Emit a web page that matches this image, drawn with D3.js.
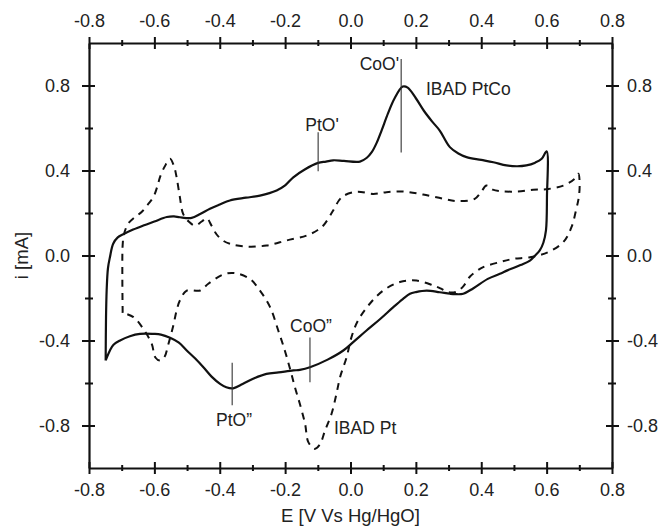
<!DOCTYPE html>
<html>
<head>
<meta charset="utf-8">
<script src="https://cdn.jsdelivr.net/npm/d3@7/dist/d3.min.js"></script>
<style>
  html, body { margin: 0; padding: 0; background: #fff; }
  svg { display: block; }
  text { font-family: "Liberation Sans", Arial, sans-serif; fill: #222; }
</style>
</head>
<body>
<svg id="chart" width="662" height="526"></svg>
<script>
// Cyclic voltammograms: potential E (V vs Hg/HgO) and current i (mA)
const ptcoE = [-0.749,-0.748,-0.746,-0.742,-0.736,-0.726,-0.712,-0.695,-0.665,-0.634,-0.600,-0.562,-0.540,-0.522,-0.486,-0.460,-0.430,-0.400,-0.369,-0.320,-0.277,-0.226,-0.200,-0.175,-0.140,-0.099,-0.075,-0.053,-0.020,0.029,0.050,0.065,0.080,0.095,0.115,0.135,0.160,0.175,0.200,0.225,0.250,0.273,0.304,0.330,0.355,0.400,0.437,0.477,0.510,0.538,0.565,0.585,0.600,
  0.601,0.598,0.590,0.579,0.565,0.549,0.520,0.480,0.457,0.420,0.375,0.345,0.320,0.304,0.273,0.233,0.200,0.182,0.160,0.131,0.090,0.049,0.010,-0.022,-0.070,-0.124,-0.155,-0.175,-0.220,-0.257,-0.298,-0.330,-0.359,-0.380,-0.399,-0.425,-0.450,-0.475,-0.501,-0.525,-0.552,-0.580,-0.603,-0.644,-0.675,-0.705,-0.725,-0.736,-0.749];
const ptcoI = [-0.494,-0.300,-0.165,-0.060,-0.008,0.055,0.085,0.100,0.122,0.141,0.160,0.181,0.184,0.180,0.177,0.195,0.220,0.240,0.259,0.272,0.282,0.306,0.330,0.368,0.405,0.436,0.442,0.448,0.445,0.442,0.460,0.486,0.530,0.588,0.670,0.740,0.795,0.790,0.740,0.680,0.630,0.588,0.510,0.480,0.463,0.450,0.439,0.424,0.420,0.424,0.437,0.455,0.490,
  0.275,0.118,0.060,0.024,0.000,-0.024,-0.045,-0.070,-0.086,-0.110,-0.155,-0.180,-0.182,-0.180,-0.173,-0.165,-0.172,-0.180,-0.205,-0.243,-0.300,-0.353,-0.405,-0.447,-0.490,-0.526,-0.538,-0.541,-0.550,-0.557,-0.580,-0.605,-0.625,-0.620,-0.604,-0.570,-0.526,-0.485,-0.447,-0.410,-0.387,-0.372,-0.369,-0.369,-0.380,-0.400,-0.420,-0.447,-0.494];

const ptE = [-0.697,-0.698,-0.697,-0.693,-0.680,-0.660,-0.639,-0.620,-0.603,-0.590,-0.583,-0.568,-0.552,-0.540,-0.532,-0.522,-0.512,-0.495,-0.476,-0.455,-0.440,-0.425,-0.410,-0.390,-0.369,-0.318,-0.257,-0.195,-0.134,-0.100,-0.083,-0.053,-0.035,-0.022,0.019,0.070,0.110,0.161,0.222,0.284,0.329,0.380,0.400,0.416,0.435,0.457,0.508,0.559,0.605,0.651,0.685,0.697,
  0.701,0.698,0.691,0.676,0.651,0.605,0.549,0.498,0.457,0.406,0.380,0.365,0.345,0.325,0.299,0.275,0.253,0.202,0.151,0.100,0.059,0.023,0.003,-0.012,-0.032,-0.043,-0.058,-0.078,-0.094,-0.110,-0.129,-0.139,-0.155,-0.170,-0.185,-0.201,-0.221,-0.246,-0.277,-0.308,-0.354,-0.389,-0.435,-0.460,-0.501,-0.522,-0.532,-0.542,-0.557,-0.570,-0.583,-0.597,-0.608,-0.634,-0.664,-0.697];
const ptI = [-0.270,-0.100,0.050,0.100,0.150,0.180,0.205,0.240,0.275,0.330,0.368,0.420,0.455,0.420,0.368,0.275,0.196,0.160,0.141,0.160,0.175,0.140,0.100,0.070,0.055,0.042,0.047,0.071,0.094,0.120,0.141,0.212,0.260,0.280,0.300,0.290,0.298,0.301,0.287,0.267,0.256,0.267,0.300,0.329,0.310,0.303,0.301,0.309,0.313,0.329,0.360,0.385,
  0.330,0.270,0.220,0.133,0.063,0.016,-0.008,-0.016,-0.031,-0.055,-0.080,-0.100,-0.145,-0.170,-0.173,-0.155,-0.141,-0.118,-0.125,-0.165,-0.227,-0.306,-0.384,-0.479,-0.573,-0.651,-0.745,-0.824,-0.890,-0.910,-0.878,-0.792,-0.698,-0.620,-0.533,-0.447,-0.353,-0.243,-0.165,-0.110,-0.083,-0.089,-0.133,-0.165,-0.165,-0.212,-0.259,-0.329,-0.416,-0.480,-0.494,-0.480,-0.416,-0.345,-0.290,-0.270];

const xTicks = [-0.8,-0.6,-0.4,-0.2,0.0,0.2,0.4,0.6,0.8];
const xMinor = [-0.7,-0.5,-0.3,-0.1,0.1,0.3,0.5,0.7];
const yTicks = [-0.8,-0.4,0.0,0.4,0.8];
const yMinor = [-0.6,-0.2,0.2,0.6];

// Peak labels: text, potential and current of the marked point
const peakNames = ["CoO'", "PtO'", "PtO\u201D", "CoO\u201D"];
const peakE = [0.155, -0.099, -0.362, -0.124];
const peakI = [0.795, 0.436, -0.625, -0.526];

const svg = d3.select("#chart");
const plotL = 89, plotR = 612, plotT = 43, plotB = 468;
const x = d3.scaleLinear().domain([-0.8, 0.8]).range([plotL, plotR]);
const y = d3.scaleLinear().domain([-1, 1]).range([plotB, plotT]);

// one decimal, plain hyphen for negatives
const fmt = d => d3.format(".1f")(d).replace("\u2212", "-");
const fontSize = 18;
const noteSize = 17.5;

// bottom axis
const gB = svg.append("g").attr("transform", `translate(0,${plotB})`)
  .call(d3.axisBottom(x).tickValues(xTicks).tickFormat(fmt).tickSize(6).tickSizeOuter(0).tickPadding(9));
gB.selectAll(".tick line").attr("y1", -6).attr("y2", 6);
const gBm = svg.append("g").attr("transform", `translate(0,${plotB})`)
  .call(d3.axisBottom(x).tickValues(xMinor).tickFormat("").tickSize(3).tickSizeOuter(0));
gBm.selectAll(".tick line").attr("y1", -3);
gBm.select(".domain").remove();

// top axis
const gT = svg.append("g").attr("transform", `translate(0,${plotT})`)
  .call(d3.axisTop(x).tickValues(xTicks).tickFormat(fmt).tickSize(6).tickSizeOuter(0).tickPadding(10));
gT.selectAll(".tick line").attr("y1", 6).attr("y2", -6);
const gTm = svg.append("g").attr("transform", `translate(0,${plotT})`)
  .call(d3.axisTop(x).tickValues(xMinor).tickFormat("").tickSize(3).tickSizeOuter(0));
gTm.selectAll(".tick line").attr("y1", 3);
gTm.select(".domain").remove();

// left axis
const gL = svg.append("g").attr("transform", `translate(${plotL},0)`)
  .call(d3.axisLeft(y).tickValues(yTicks).tickFormat(fmt).tickSize(7).tickSizeOuter(0).tickPadding(12));
gL.selectAll(".tick line").attr("x1", 6).attr("x2", -7);
const gLm = svg.append("g").attr("transform", `translate(${plotL},0)`)
  .call(d3.axisLeft(y).tickValues(yMinor).tickFormat("").tickSize(4).tickSizeOuter(0));
gLm.selectAll(".tick line").attr("x1", 4);
gLm.select(".domain").remove();

// right axis
const gR = svg.append("g").attr("transform", `translate(${plotR},0)`)
  .call(d3.axisRight(y).tickValues(yTicks).tickFormat(fmt).tickSize(7).tickSizeOuter(0).tickPadding(8));
gR.selectAll(".tick line").attr("x1", -6).attr("x2", 7);
const gRm = svg.append("g").attr("transform", `translate(${plotR},0)`)
  .call(d3.axisRight(y).tickValues(yMinor).tickFormat("").tickSize(4).tickSizeOuter(0));
gRm.selectAll(".tick line").attr("x1", -4);
gRm.select(".domain").remove();

[gB, gT, gL, gR, gBm, gTm, gLm, gRm].forEach(g => {
  g.select(".domain").attr("stroke-width", 2.2).attr("stroke", "#111");
  g.selectAll(".tick line").attr("stroke-width", 2).attr("stroke", "#111");
  g.selectAll(".tick text").attr("font-size", fontSize).attr("fill", "#222")
    .attr("font-family", "'Liberation Sans', Arial, sans-serif");
});

// axis titles
svg.append("text").attr("x", (plotL + plotR) / 2).attr("y", 522)
  .attr("text-anchor", "middle").attr("font-size", 18.5).text("E [V Vs Hg/HgO]");
svg.append("text").attr("transform", `translate(28,${(plotT + plotB) / 2}) rotate(-90)`)
  .attr("text-anchor", "middle").attr("font-size", 18.5).text("i [mA]");

// curves
const line = d3.line().x(d => x(d[0])).y(d => y(d[1])).curve(d3.curveCatmullRom.alpha(0.5));
svg.append("path").datum(ptE.map((e, k) => [e, ptI[k]]))
  .attr("d", line).attr("fill", "none").attr("stroke", "#111")
  .attr("stroke-width", 2).attr("stroke-dasharray", "7,6");
svg.append("path").datum(ptcoE.map((e, k) => [e, ptcoI[k]]))
  .attr("d", line).attr("fill", "none").attr("stroke", "#111")
  .attr("stroke-width", 2.2);

// peak markers: thin vertical bars through each labelled peak
const markSpan = [[-0.31, 0.13], [-0.04, 0.144], [-0.08, 0.12], [-0.07, 0.14]];
peakNames.forEach((name, k) => {
  const lo = peakI[k] + markSpan[k][0], hi = peakI[k] + markSpan[k][1];
  svg.append("line").attr("x1", x(peakE[k])).attr("x2", x(peakE[k]))
    .attr("y1", y(lo)).attr("y2", y(hi)).attr("stroke", "#333").attr("stroke-width", 1.1);
});

// peak labels
svg.append("text").attr("x", 399).attr("y", 70).attr("text-anchor", "end").attr("font-size", noteSize).text(peakNames[0]);
svg.append("text").attr("x", 322).attr("y", 131).attr("text-anchor", "middle").attr("font-size", noteSize).text(peakNames[1]);
svg.append("text").attr("x", 234).attr("y", 426).attr("text-anchor", "middle").attr("font-size", noteSize).text(peakNames[2]);
svg.append("text").attr("x", 311).attr("y", 332).attr("text-anchor", "middle").attr("font-size", noteSize).text(peakNames[3]);

// series labels
svg.append("text").attr("x", 426).attr("y", 95).attr("font-size", noteSize).text("IBAD PtCo");
svg.append("text").attr("x", 334).attr("y", 434).attr("font-size", noteSize).text("IBAD Pt");
</script>
</body>
</html>
